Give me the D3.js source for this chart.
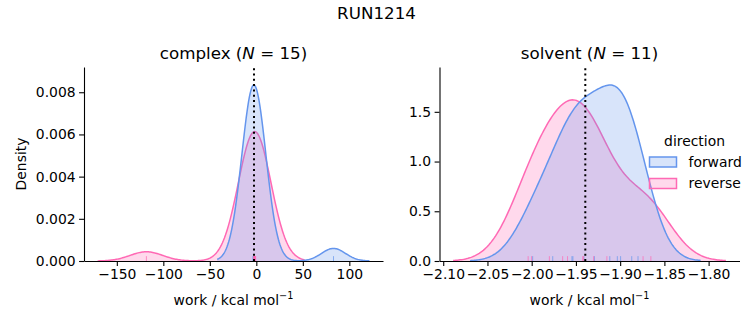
<!DOCTYPE html>
<html>
<head>
<meta charset="utf-8">
<script src="https://cdn.jsdelivr.net/npm/d3@7"></script>
<style>
  body { margin: 0; background: #fff; }
  svg text { font-family: "DejaVu Sans", sans-serif; fill: #000; }
</style>
</head>
<body>
<script>
// work values (kcal/mol)
var complexForward = [-3.5, -3.3, -3.1, -3.0, -2.9, -2.8, -2.7, -2.6, -2.5, -2.4, -2.2, -2.1, -1.9, -1.7, 83.0];
var complexReverse = [-118.2, -2.8, -2.6, -2.4, -2.2, -2.1, -2.0, -1.9, -1.8, -1.6, -1.5, -1.3, -1.1, -0.9, -0.7];
var solventForward = [-1.9989, -1.9762, -1.9545, -1.9534, -1.9410, -1.9291, -1.9117, -1.9032, -1.8995, -1.8869, -1.8798];
var solventReverse = [-2.0040, -2.0001, -1.9800, -1.9650, -1.9595, -1.9424, -1.9413, -1.9300, -1.9150, -1.8741, -1.8653];

// free energy estimate (dotted line)
var complexEstimate = -2.5;
var solventEstimate = -1.9394;

var directions = ["forward", "reverse"];
var complexXTicks = [-150, -100, -50, 0, 50, 100];
var complexYTicks = [0, 0.002, 0.004, 0.006, 0.008];
var solventXTicks = [-2.10, -2.05, -2.00, -1.95, -1.90, -1.85, -1.80];
var solventYTicks = [0, 0.5, 1.0, 1.5];

var colors = {forward: "#6495ED", reverse: "#FF69B4"};
var W = 753, H = 325;
var nAll = complexForward.length + complexReverse.length + solventForward.length + solventReverse.length;

//Gaussian KDE, scott bandwidth, cut=3, 200 grid points (like seaborn)
function kde(values)
{
    var n = values.length;
    var bw = Math.pow(n, -0.2) * d3.deviation(values);
    var lo = d3.min(values) - 3 * bw, hi = d3.max(values) + 3 * bw;
    var w = n / nAll; //common normalisation over the whole figure
    var pts = [];
    for (var i = 0; i < 200; i++)
    {
        var x = lo + (hi - lo) * i / 199;
        var s = 0;
        values.forEach(function(v) { var z = (x - v) / bw; s += Math.exp(-0.5 * z * z); });
        pts.push([x, w * s / (n * bw * Math.sqrt(2 * Math.PI))]);
    }
    return pts;
}

var minus = function(s) { return s.replace(/-/g, "\u2212"); };

var svg = d3.select("body").append("svg").attr("width", W).attr("height", H);
svg.append("rect").attr("width", W).attr("height", H).attr("fill", "#fff");

svg.append("text").attr("x", 376.5).attr("y", 19).attr("text-anchor", "middle")
    .style("font-size", "16.7px").text("RUN1214");

function panel(opt)
{
    var curves = {forward: kde(opt.forward), reverse: kde(opt.reverse)};
    var all = curves.forward.concat(curves.reverse);
    var xmin = d3.min(all, function(d) { return d[0]; }), xmax = d3.max(all, function(d) { return d[0]; });
    var ymax = d3.max(all, function(d) { return d[1]; });
    var m = (xmax - xmin) * 0.05;

    var x = d3.scaleLinear().domain([xmin - m, xmax + m]).range([opt.left, opt.right]);
    var y = d3.scaleLinear().domain([0, ymax * 1.05 * 1.05]).range([261, 67]);
    var g = svg.append("g");

    var area = d3.area().x(function(d) { return x(d[0]); }).y0(y(0)).y1(function(d) { return y(d[1]); });
    var line = d3.line().x(function(d) { return x(d[0]); }).y(function(d) { return y(d[1]); });

    //reverse drawn first, forward on top
    ["reverse", "forward"].forEach(function(k)
    {
        g.append("path").attr("d", area(curves[k])).attr("fill", colors[k]).attr("fill-opacity", 0.25);
        g.append("path").attr("d", line(curves[k])).attr("fill", "none")
            .attr("stroke", colors[k]).attr("stroke-width", 1.5);
    });

    //rug
    var rugH = 0.025 * (261 - 67);
    [["forward", opt.forward], ["reverse", opt.reverse]].forEach(function(p)
    {
        g.selectAll(null).data(p[1]).enter().append("line")
            .attr("x1", function(d) { return x(d); }).attr("x2", function(d) { return x(d); })
            .attr("y1", 261).attr("y2", 261 - rugH)
            .attr("stroke", colors[p[0]]).attr("stroke-width", 1).attr("stroke-opacity", 0.7);
    });

    g.append("line").attr("x1", x(opt.estimate)).attr("x2", x(opt.estimate))
        .attr("y1", 261).attr("y2", 67)
        .attr("stroke", "#000").attr("stroke-width", 2).attr("stroke-dasharray", "2,3.3");

    var xa = g.append("g").attr("transform", "translate(0,261)")
        .call(d3.axisBottom(x).tickValues(opt.xTicks).tickSize(4.9).tickPadding(3.5).tickSizeOuter(0)
            .tickFormat(function(d) { return minus(d3.format(opt.xFmt)(d)); }));
    var ya = g.append("g").attr("transform", "translate(" + opt.left + ",0)")
        .call(d3.axisLeft(y).tickValues(opt.yTicks).tickSize(4.9).tickPadding(3.5).tickSizeOuter(0)
            .tickFormat(d3.format(opt.yFmt)));
    [xa, ya].forEach(function(a)
    {
        a.selectAll("text").style("font-size", "13.9px").style("font-family", "DejaVu Sans");
        a.selectAll("line, path").attr("stroke", "#000").attr("stroke-width", 1.1);
    });

    var t = g.append("text").attr("x", (opt.left + opt.right) / 2).attr("y", 59)
        .attr("text-anchor", "middle").style("font-size", "16.7px");
    t.append("tspan").text(opt.name + " (");
    t.append("tspan").style("font-style", "italic").text("N");
    t.append("tspan").text(" = " + opt.forward.length + ")");

    var xl = g.append("text").attr("x", (opt.left + opt.right) / 2).attr("y", 305)
        .attr("text-anchor", "middle").style("font-size", "13.9px");
    xl.append("tspan").text("work / kcal mol");
    xl.append("tspan").attr("dy", -6).style("font-size", "9.7px").text("\u22121");
}

panel({name: "complex", forward: complexForward, reverse: complexReverse, estimate: complexEstimate,
       left: 84, right: 383, xTicks: complexXTicks, yTicks: complexYTicks, xFmt: "d", yFmt: ".3f"});
panel({name: "solvent", forward: solventForward, reverse: solventReverse, estimate: solventEstimate,
       left: 439.5, right: 739.5, xTicks: solventXTicks, yTicks: solventYTicks, xFmt: ".2f", yFmt: ".1f"});

svg.append("text").attr("transform", "translate(26,164) rotate(-90)").attr("text-anchor", "middle")
    .style("font-size", "13.9px").text("Density");

//legend
var lg = svg.append("g");
lg.append("text").attr("x", 694.5).attr("y", 146).attr("text-anchor", "middle")
    .style("font-size", "13.9px").text("direction");
directions.forEach(function(k, i)
{
    var yy = 157 + i * 21.5;
    lg.append("rect").attr("x", 649.5).attr("y", yy).attr("width", 27).attr("height", 10)
        .attr("fill", colors[k]).attr("fill-opacity", 0.25).attr("stroke", colors[k]).attr("stroke-width", 1.5);
    lg.append("text").attr("x", 688.5).attr("y", yy + 9.5).style("font-size", "13.9px").text(k);
});
</script>
</body>
</html>
